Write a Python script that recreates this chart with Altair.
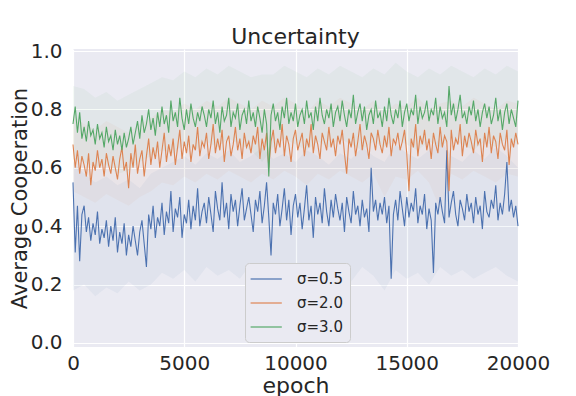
import altair as alt
import pandas as pd

series_names = ["σ=0.5", "σ=2.0", "σ=3.0"]
band_names = ["band 0.5", "band 2.0", "band 3.0"]
series_colors = ["#4c72b0", "#dd8452", "#55a868"]

epochs = list(range(0, 20001, 100))
band_epochs = list(range(0, 20001, 500))

blue = [
    0.55, 0.31, 0.47, 0.28, 0.44, 0.47, 0.38, 0.43, 0.35, 0.41, 0.37, 0.45, 0.34, 0.39, 0.36, 0.42, 0.33, 0.40, 0.35, 0.43,
    0.31, 0.38, 0.34, 0.41, 0.30, 0.37, 0.33, 0.40, 0.35, 0.30, 0.38, 0.42, 0.34, 0.26, 0.44, 0.39, 0.47, 0.36, 0.43, 0.40,
    0.48, 0.37, 0.45, 0.41, 0.52, 0.38, 0.46, 0.43, 0.50, 0.36, 0.44, 0.41, 0.49, 0.39, 0.47, 0.42, 0.53, 0.40, 0.45, 0.48,
    0.41, 0.50, 0.44, 0.38, 0.52, 0.46, 0.42, 0.55, 0.43, 0.48, 0.39, 0.51, 0.45, 0.49, 0.40, 0.47, 0.53, 0.42, 0.46, 0.50,
    0.44, 0.38, 0.49, 0.45, 0.52, 0.41, 0.47, 0.55, 0.43, 0.30, 0.48, 0.44, 0.51, 0.40, 0.46, 0.53, 0.42, 0.49, 0.37, 0.47,
    0.51, 0.43, 0.48, 0.39, 0.46, 0.54, 0.42, 0.47, 0.36, 0.50, 0.44, 0.48, 0.41, 0.53, 0.45, 0.40, 0.49, 0.43, 0.51, 0.46,
    0.42, 0.48, 0.38, 0.50, 0.45, 0.41, 0.52, 0.44, 0.47, 0.40, 0.49, 0.43, 0.46, 0.38, 0.60, 0.45, 0.49, 0.42, 0.48, 0.44,
    0.50, 0.41, 0.47, 0.22, 0.44, 0.49, 0.42, 0.52, 0.46, 0.40, 0.50, 0.43, 0.48, 0.45, 0.53, 0.41, 0.47, 0.44, 0.51, 0.39,
    0.46, 0.42, 0.24, 0.48, 0.44, 0.50, 0.45, 0.41, 0.66, 0.43, 0.48, 0.52, 0.44, 0.40, 0.49, 0.46, 0.42, 0.51, 0.45, 0.48,
    0.41, 0.50, 0.44, 0.47, 0.39, 0.52, 0.45, 0.43, 0.49, 0.46, 0.54, 0.42, 0.48, 0.44, 0.51, 0.62, 0.45, 0.49, 0.43, 0.47, 0.40,
]

orange = [
    0.68, 0.60, 0.66, 0.58, 0.64, 0.61, 0.57, 0.65, 0.54, 0.62, 0.59, 0.66, 0.60, 0.63, 0.57, 0.65, 0.61, 0.58, 0.64, 0.60,
    0.56, 0.63, 0.67, 0.59, 0.62, 0.53, 0.65, 0.60, 0.68, 0.58, 0.63, 0.66, 0.57, 0.64, 0.70, 0.61, 0.67, 0.63, 0.69, 0.60,
    0.66, 0.72, 0.62, 0.68, 0.64, 0.70, 0.61, 0.67, 0.73, 0.63, 0.69, 0.65, 0.71, 0.62, 0.68, 0.66, 0.74, 0.64, 0.69, 0.67,
    0.72, 0.63, 0.68, 0.75, 0.65, 0.70, 0.66, 0.73, 0.62, 0.69, 0.71, 0.64, 0.68, 0.74, 0.66, 0.70, 0.63, 0.72, 0.67, 0.69,
    0.65, 0.71, 0.68, 0.74, 0.63, 0.70, 0.66, 0.72, 0.60, 0.69, 0.73, 0.65, 0.70, 0.67, 0.75, 0.64, 0.71, 0.68, 0.62, 0.70,
    0.73, 0.66, 0.69, 0.72, 0.64, 0.70, 0.67, 0.75, 0.65, 0.71, 0.68, 0.63, 0.72, 0.69, 0.66, 0.74, 0.67, 0.70, 0.64, 0.71,
    0.68, 0.73, 0.65, 0.58, 0.70, 0.67, 0.72, 0.64, 0.69, 0.75, 0.66, 0.71, 0.68, 0.63, 0.72, 0.70, 0.66, 0.73, 0.68, 0.65,
    0.71, 0.67, 0.74, 0.64, 0.70, 0.68, 0.72, 0.66, 0.69, 0.73, 0.65, 0.52, 0.70, 0.67, 0.75, 0.64, 0.71, 0.68, 0.73, 0.66,
    0.70, 0.63, 0.72, 0.68, 0.65, 0.74, 0.67, 0.71, 0.69, 0.52, 0.73, 0.66, 0.70, 0.68, 0.75, 0.64, 0.71, 0.67, 0.72, 0.69,
    0.65, 0.73, 0.68, 0.70, 0.62, 0.72, 0.67, 0.74, 0.65, 0.71, 0.69, 0.63, 0.72, 0.68, 0.66, 0.73, 0.61, 0.70, 0.67, 0.72, 0.68,
]

green = [
    0.75, 0.81, 0.72, 0.79, 0.70, 0.74, 0.69, 0.76, 0.71, 0.73, 0.68, 0.75, 0.70, 0.72, 0.67, 0.74, 0.69, 0.71, 0.66, 0.73,
    0.68, 0.71, 0.66, 0.72, 0.67, 0.70, 0.74, 0.68, 0.72, 0.76, 0.70, 0.78, 0.72, 0.75, 0.80, 0.73, 0.77, 0.71, 0.79, 0.74,
    0.81, 0.75, 0.78, 0.72, 0.83, 0.76, 0.79, 0.74, 0.84, 0.77, 0.73, 0.80, 0.75, 0.82, 0.77, 0.74, 0.79, 0.76, 0.81, 0.78,
    0.74, 0.80, 0.77, 0.83, 0.75, 0.79, 0.72, 0.81, 0.76, 0.78, 0.84, 0.74, 0.79, 0.77, 0.82, 0.73, 0.78, 0.80, 0.75, 0.83,
    0.76, 0.79, 0.74, 0.81, 0.77, 0.72, 0.80, 0.75, 0.57, 0.78, 0.82, 0.76, 0.79, 0.73, 0.81, 0.77, 0.84, 0.75, 0.79, 0.76,
    0.82, 0.74, 0.78, 0.80, 0.75, 0.83, 0.77, 0.79, 0.73, 0.81, 0.76, 0.84, 0.78, 0.75, 0.80, 0.77, 0.82, 0.74, 0.79, 0.81,
    0.76, 0.83, 0.78, 0.74, 0.80, 0.77, 0.85, 0.75, 0.79, 0.82, 0.76, 0.81, 0.73, 0.78, 0.80, 0.75, 0.83, 0.77, 0.79, 0.74,
    0.81, 0.76, 0.84, 0.78, 0.75, 0.80, 0.77, 0.83, 0.74, 0.79, 0.82, 0.76, 0.80, 0.78, 0.85, 0.75, 0.81, 0.77, 0.79, 0.83,
    0.76, 0.80, 0.78, 0.84, 0.75, 0.81, 0.77, 0.79, 0.74, 0.88, 0.78, 0.82, 0.76, 0.80, 0.85, 0.77, 0.79, 0.75, 0.81, 0.78,
    0.83, 0.76, 0.80, 0.74, 0.79, 0.82, 0.77, 0.81, 0.75, 0.78, 0.84, 0.76, 0.80, 0.73, 0.79, 0.82, 0.75, 0.80, 0.77, 0.74, 0.83,
]

blue_lo = [0.18, 0.20, 0.16, 0.19, 0.17, 0.21, 0.18, 0.20, 0.24, 0.22, 0.25, 0.21, 0.26, 0.23, 0.25, 0.22, 0.27, 0.24, 0.20, 0.25,
           0.23, 0.26, 0.22, 0.25, 0.24, 0.21, 0.26, 0.23, 0.18, 0.25, 0.22, 0.24, 0.20, 0.26, 0.23, 0.25, 0.22, 0.24, 0.26, 0.23, 0.21]
blue_hi = [0.62, 0.58, 0.55, 0.57, 0.54, 0.56, 0.53, 0.58, 0.60, 0.62, 0.64, 0.61, 0.65, 0.63, 0.66, 0.62, 0.64, 0.67, 0.63, 0.65,
           0.62, 0.66, 0.64, 0.61, 0.65, 0.63, 0.67, 0.64, 0.62, 0.68, 0.65, 0.63, 0.66, 0.70, 0.64, 0.62, 0.66, 0.63, 0.67, 0.64, 0.60]
orange_lo = [0.52, 0.50, 0.48, 0.51, 0.49, 0.47, 0.50, 0.52, 0.55, 0.54, 0.57, 0.55, 0.58, 0.56, 0.59, 0.57, 0.55, 0.58, 0.56, 0.59,
             0.57, 0.54, 0.58, 0.56, 0.59, 0.57, 0.55, 0.58, 0.50, 0.57, 0.56, 0.59, 0.55, 0.46, 0.58, 0.56, 0.59, 0.57, 0.55, 0.58, 0.57]
orange_hi = [0.78, 0.75, 0.73, 0.76, 0.74, 0.72, 0.75, 0.77, 0.80, 0.79, 0.82, 0.80, 0.83, 0.81, 0.84, 0.82, 0.80, 0.83, 0.81, 0.84,
             0.82, 0.79, 0.83, 0.81, 0.84, 0.82, 0.80, 0.83, 0.79, 0.82, 0.81, 0.84, 0.80, 0.82, 0.83, 0.81, 0.84, 0.82, 0.80, 0.83, 0.82]
green_lo = [0.63, 0.62, 0.60, 0.61, 0.58, 0.59, 0.62, 0.64, 0.66, 0.65, 0.68, 0.66, 0.69, 0.67, 0.70, 0.68, 0.66, 0.62, 0.67, 0.70,
            0.68, 0.66, 0.69, 0.67, 0.70, 0.68, 0.66, 0.69, 0.67, 0.70, 0.68, 0.66, 0.69, 0.67, 0.70, 0.68, 0.66, 0.69, 0.67, 0.70, 0.68]
green_hi = [0.88, 0.87, 0.84, 0.86, 0.83, 0.85, 0.87, 0.89, 0.91, 0.90, 0.93, 0.91, 0.94, 0.92, 0.95, 0.93, 0.91, 0.92, 0.92, 0.95,
            0.93, 0.91, 0.94, 0.92, 0.95, 0.93, 0.91, 0.94, 0.92, 0.96, 0.93, 0.91, 0.94, 0.92, 0.95, 0.93, 0.91, 0.94, 0.92, 0.95, 0.93]

x_ticks = [0, 5000, 10000, 15000, 20000]
y_ticks = [0.0, 0.2, 0.4, 0.6, 0.8, 1.0]

rows = []
for name, vals in zip(series_names, [blue, orange, green]):
    for e, v in zip(epochs, vals):
        rows.append({"epoch": e, "value": v, "series": name})
lines_df = pd.DataFrame(rows)

brows = []
for name, lo, hi in zip(band_names, [blue_lo, orange_lo, green_lo], [blue_hi, orange_hi, green_hi]):
    for e, a, b in zip(band_epochs, lo, hi):
        brows.append({"epoch": e, "lo": a, "hi": b, "band": name})
bands_df = pd.DataFrame(brows)

x_scale = alt.Scale(domain=[0, 20000], nice=False, zero=False)
y_scale = alt.Scale(domain=[-0.014, 1.007], nice=False, zero=False)

x_axis = alt.Axis(values=x_ticks, format="d", title="epoch", labelFontSize=20, titleFontSize=22,
                  labelPadding=6, titlePadding=2, labelFlush=False)
y_axis = alt.Axis(values=y_ticks, format=".1f", title="Average Cooperation", labelFontSize=20,
                  titleFontSize=21, labelPadding=11, titlePadding=0)

bands = alt.Chart(bands_df).mark_area(opacity=0.06, interpolate="linear").encode(
    x=alt.X("epoch:Q", scale=x_scale, axis=x_axis),
    y=alt.Y("lo:Q", scale=y_scale, axis=y_axis),
    y2="hi:Q",
    fill=alt.Fill("band:N", scale=alt.Scale(domain=band_names, range=series_colors), legend=None),
)

lines = alt.Chart(lines_df).mark_line(strokeWidth=1.1).encode(
    x=alt.X("epoch:Q", scale=x_scale),
    y=alt.Y("value:Q", scale=y_scale),
    stroke=alt.Stroke("series:N", scale=alt.Scale(domain=series_names, range=series_colors), legend=alt.Legend(
        title=None, orient="none", legendX=172, legendY=214,
        symbolType="M-1.3,0H2.6", symbolSize=256, symbolStrokeWidth=1.2,
        labelFontSize=15, labelOffset=27, rowPadding=7, padding=7,
        fillColor="#eaeaf2", strokeColor="#cccccc", cornerRadius=4,
    )),
)

chart = alt.layer(bands, lines).resolve_scale(fill="independent", stroke="independent").properties(
    width=445, height=298,
    title=alt.TitleParams("Uncertainty", fontSize=22, fontWeight="normal", offset=-8, color="#262626"),
    autosize=alt.AutoSizeParams(type="none"),
    padding={"left": 65, "top": 41, "right": 50, "bottom": 49},
).configure(
    font="DejaVu Sans",
).configure_view(
    fill="#eaeaf2", stroke=None,
).configure_axis(
    grid=True, gridColor="white", gridWidth=1.2, domain=False, ticks=False,
    labelColor="#262626", titleColor="#262626", labelFont="DejaVu Sans", titleFont="DejaVu Sans",
    titleFontWeight="normal",
).configure_legend(
    labelColor="#262626", labelFont="DejaVu Sans",
)

chart.save("out.html", embed_options={"renderer": "svg", "actions": False})
